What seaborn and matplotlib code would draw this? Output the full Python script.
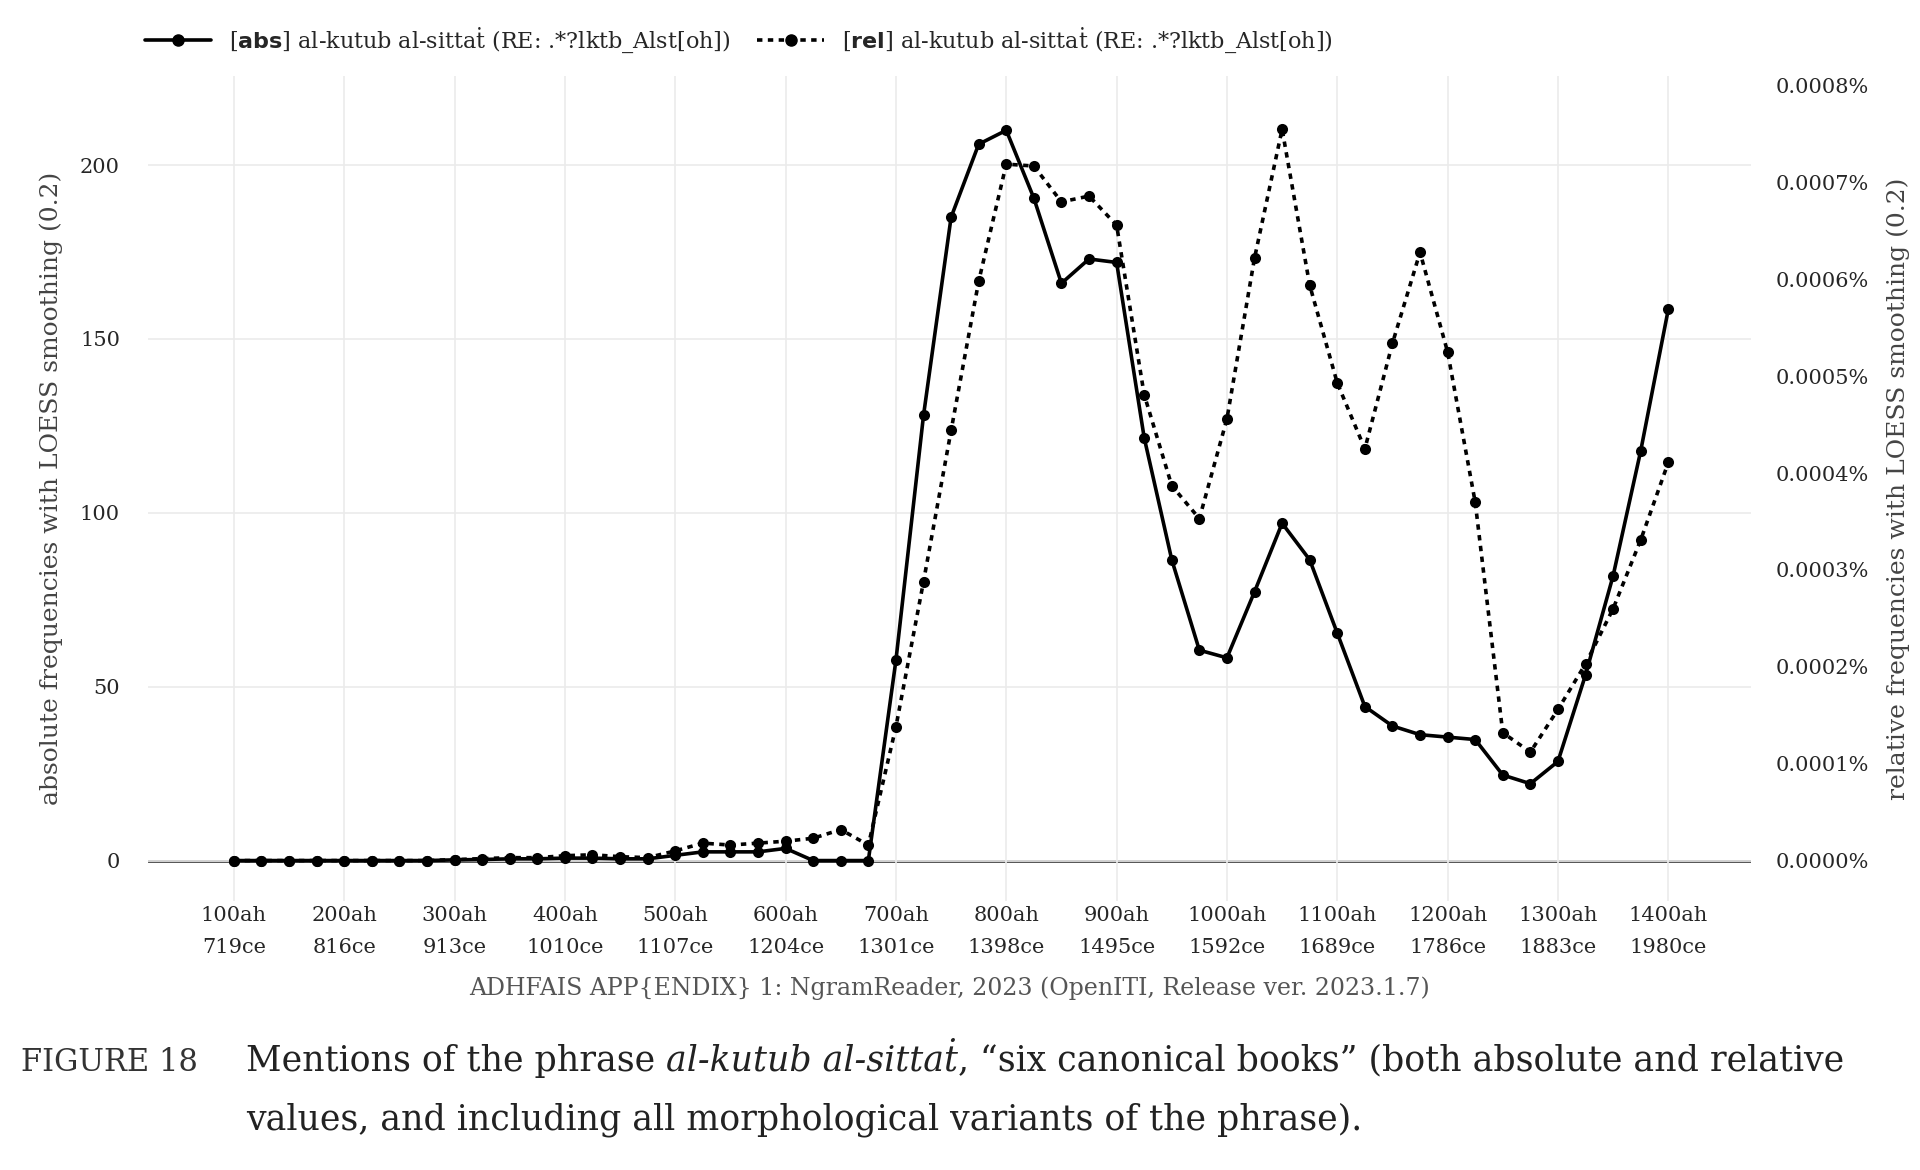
import matplotlib
matplotlib.use("Agg")
import matplotlib.pyplot as plt
import seaborn as sns
import pandas as pd
import numpy as np
from matplotlib.lines import Line2D

years_ah = list(range(100, 1401, 25))
abs_vals = [0,0,0,0,0,0,0,0,0.2,0.3,0.5,0.5,0.7,0.7,0.5,0.5,1.5,2.5,2.5,2.5,3.5,0,0,0,
            57.6,128,185,206,210,190.5,166,173,172,121.6,86.5,60.5,58.3,77.3,97,86.5,65.4,
            44.3,38.7,36.2,35.5,34.8,24.6,22.1,28.5,53.4,81.9,117.8,158.5]
rel_vals_e4 = [0,0,0,0,0,0,0,0,0.01,0.02,0.03,0.03,0.05,0.06,0.04,0.03,0.1,0.18,0.16,0.18,0.2,0.23,0.32,0.16,
               1.38,2.88,4.44,5.98,7.19,7.17,6.8,6.86,6.56,4.81,3.87,3.53,4.56,6.22,7.55,5.94,4.93,
               4.25,5.34,6.28,5.25,3.7,1.32,1.12,1.56,2.03,2.6,3.31,4.11]
tick_ah = list(range(100, 1401, 100))
tick_ce = [719,816,913,1010,1107,1204,1301,1398,1495,1592,1689,1786,1883,1980]
tick_labels = [f"{a}ah\n{c}ce" for a, c in zip(tick_ah, tick_ce)]

df = pd.DataFrame({"ah": years_ah, "abs": abs_vals, "rel": np.array(rel_vals_e4) * 1e-4})

sns.set_theme(style="whitegrid")
plt.rcParams['font.family'] = ['DejaVu Serif']
fig = plt.figure(figsize=(19.2, 11.7), dpi=100)
ax = fig.add_axes([0.077, 0.23, 0.835, 0.705])
ax2 = ax.twinx()

lo, hi = -11.6, 225.6
k = 3.59e-6
ax.set_ylim(lo, hi)
ax2.set_ylim(lo * k, hi * k)
ax.set_xlim(22, 1475)

sns.lineplot(data=df, x="ah", y="abs", ax=ax, color="black", lw=2.6, marker="o", markersize=8,
             markeredgewidth=0, legend=False)
sns.lineplot(data=df, x="ah", y="rel", ax=ax2, color="black", lw=2.6, ls=(0, (1.5, 1.5)), marker="o",
             markersize=8, markeredgewidth=0, legend=False)
ax.axhline(0, color="#444444", lw=2, zorder=0)

for a in (ax, ax2):
    for s in a.spines.values():
        s.set_visible(False)
ax.grid(True, color="#ebebeb", lw=1.2)
ax2.grid(False)
ax.set_xticks(tick_ah)
ax.set_xticklabels(tick_labels, fontsize=15, linespacing=1.9)
ax.set_yticks([0, 50, 100, 150, 200])
ax.tick_params(axis="both", length=0)
ax.tick_params(axis="y", labelsize=15, pad=20)
ax2.set_yticks([i * 1e-4 for i in range(9)])
ax2.set_yticklabels([f"{i*1e-4:.4f}%" for i in range(9)], fontsize=15)
ax2.tick_params(axis="y", pad=18, length=0)
ax.set_xlabel("ADHFAIS APP{ENDIX} 1: NgramReader, 2023 (OpenITI, Release ver. 2023.1.7)",
              fontsize=17, color="#555555", labelpad=14)
ax.set_ylabel("absolute frequencies with LOESS smoothing (0.2)", fontsize=18, color="#444444", labelpad=12)
ax2.set_ylabel("relative frequencies with LOESS smoothing (0.2)", fontsize=18, color="#444444", labelpad=12)

h = [Line2D([], [], color="black", lw=2.6, marker="o", markersize=8),
     Line2D([], [], color="black", lw=2.6, ls=(0, (1.5, 1.5)), marker="o", markersize=8)]
fig.legend(h, [r"[$\mathbf{abs}$] al-kutub al-sittaṫ (RE: .*?lktb_Alst[oh])",
               r"[$\mathbf{rel}$] al-kutub al-sittaṫ (RE: .*?lktb_Alst[oh])"],
           loc="upper left", bbox_to_anchor=(0.065, 0.995), ncol=2, frameon=False, fontsize=16,
           handlelength=3, columnspacing=1.2)

fig.text(0.011, 0.085, "FIGURE 18", fontsize=22, color="#333333")
r = fig.canvas.get_renderer()
t1 = fig.text(0.128, 0.085, "Mentions of the phrase ", fontsize=25, color="#222222")
x = t1.get_window_extent(r).x1 / fig.bbox.width
t2 = fig.text(x, 0.085, "al-kutub al-sittaṫ", fontsize=25, color="#222222", style="italic")
x = t2.get_window_extent(r).x1 / fig.bbox.width
fig.text(x, 0.085, ", “six canonical books” (both absolute and relative", fontsize=25, color="#222222")
fig.text(0.128, 0.035, "values, and including all morphological variants of the phrase).", fontsize=25, color="#222222")

fig.savefig("out.png", dpi=100)
